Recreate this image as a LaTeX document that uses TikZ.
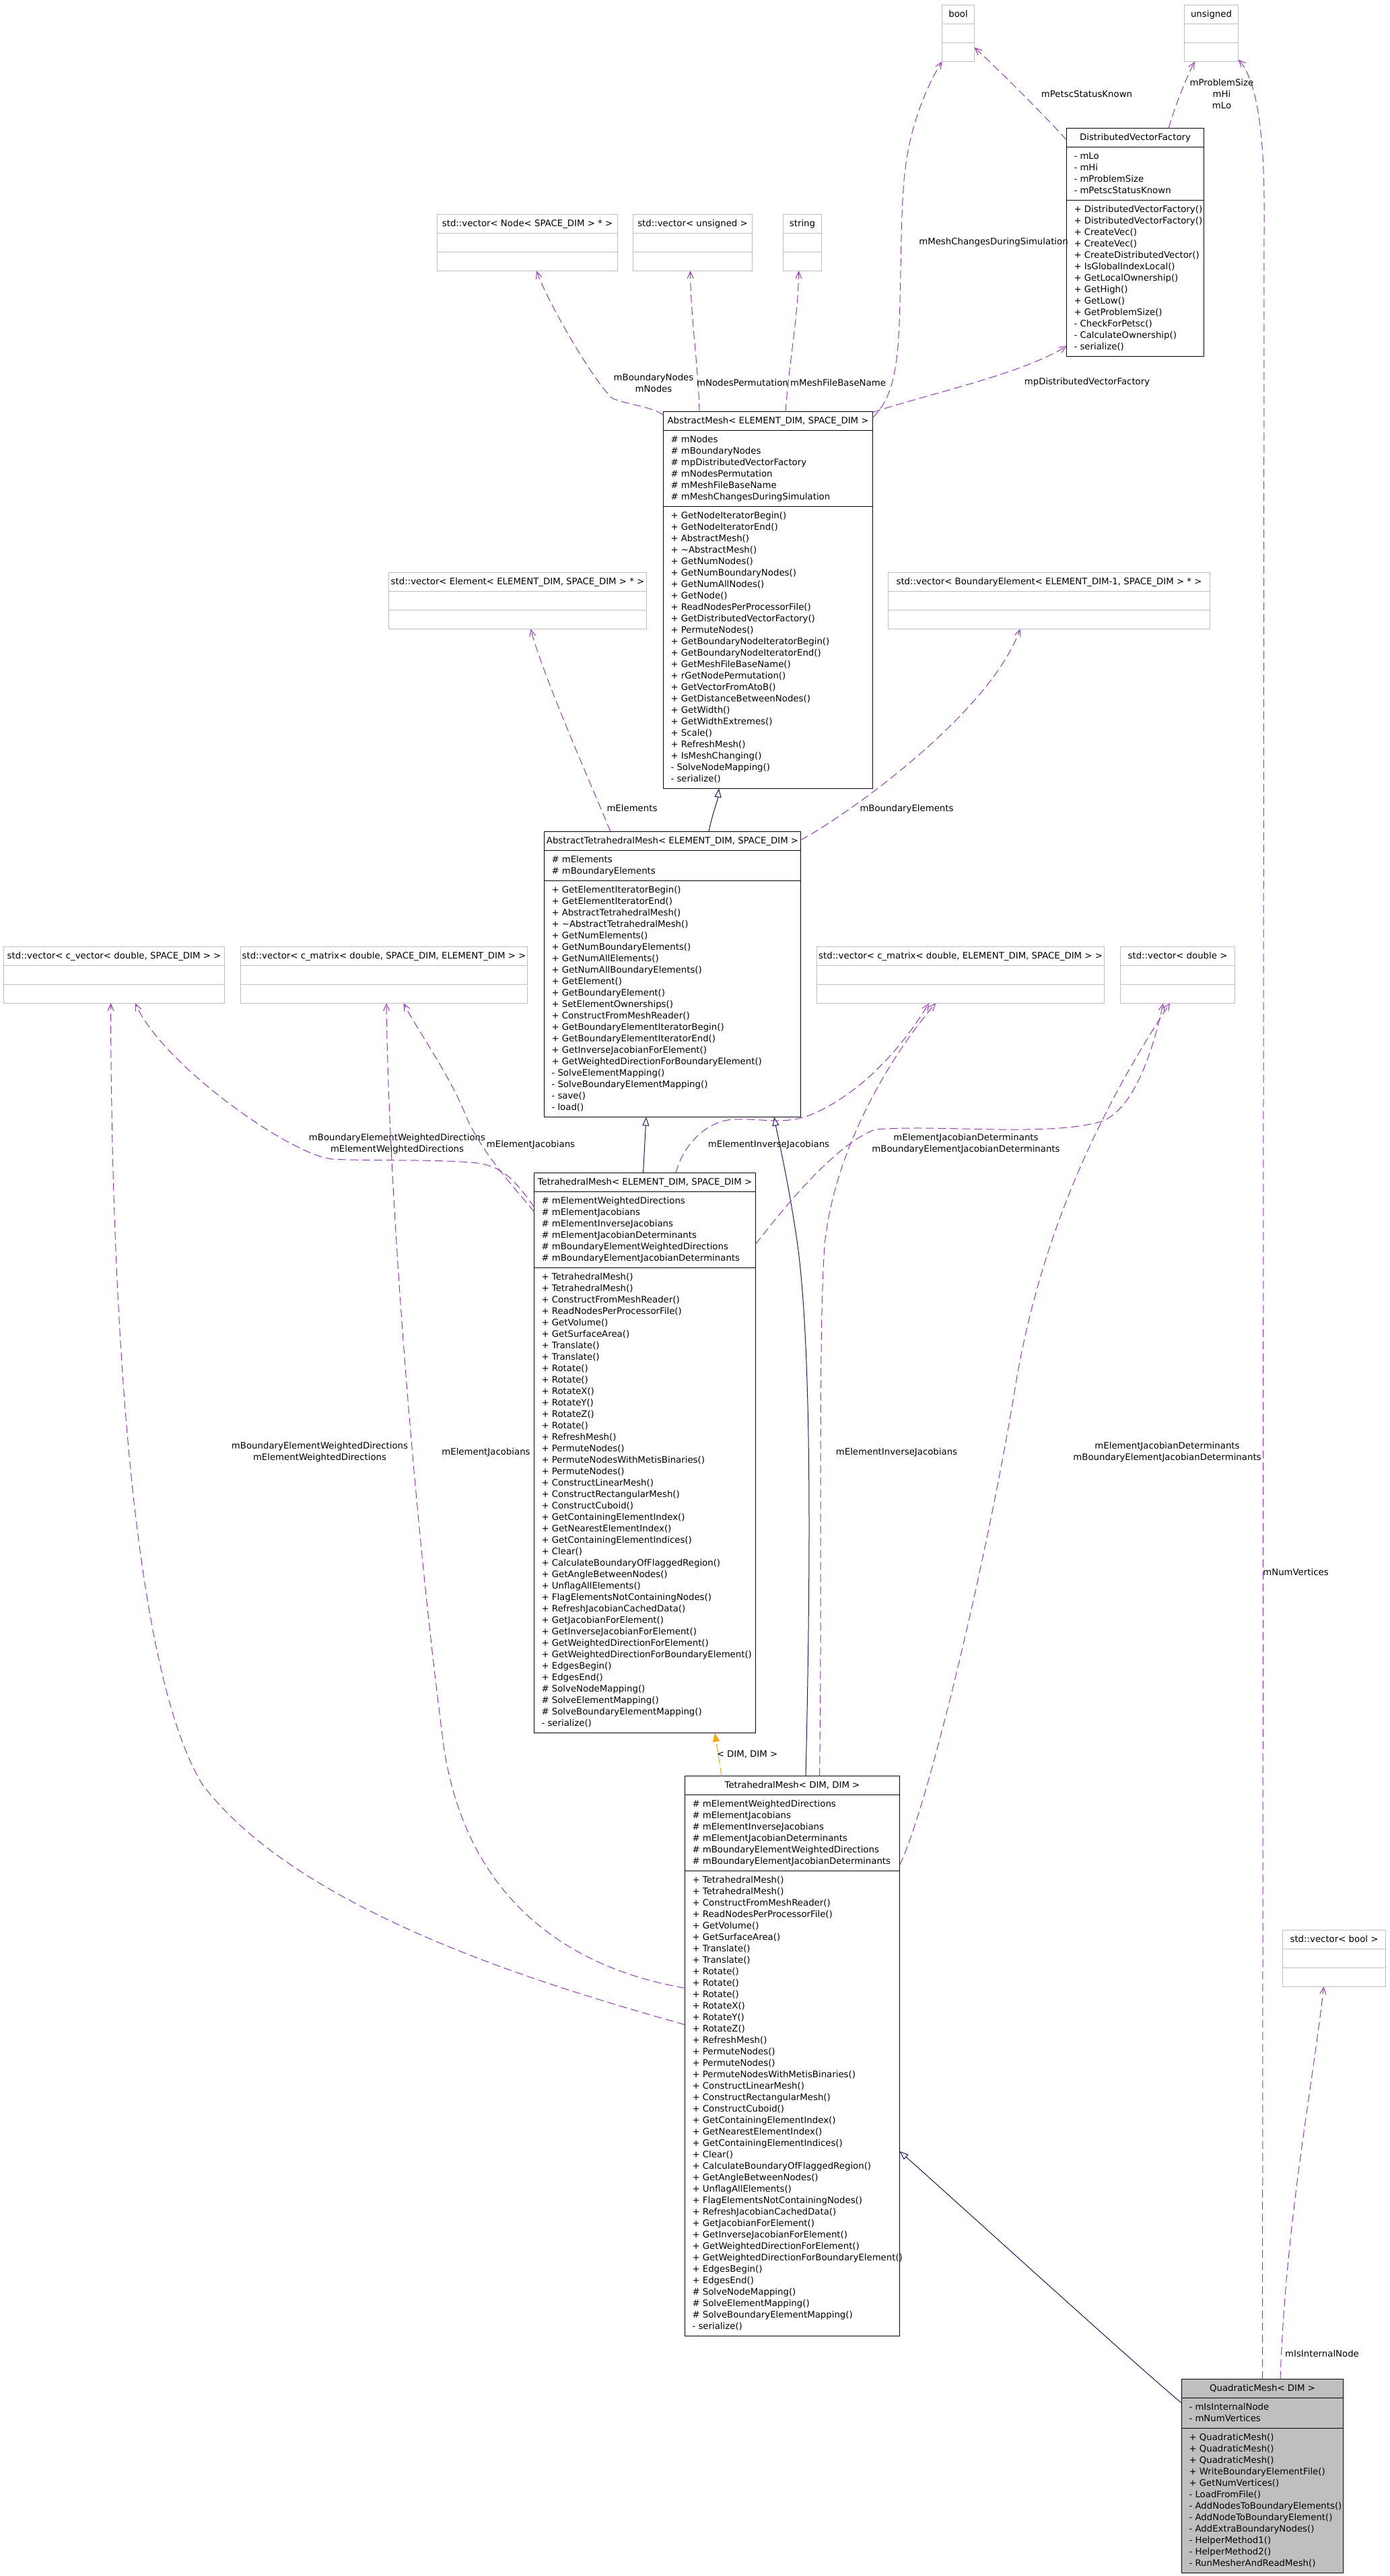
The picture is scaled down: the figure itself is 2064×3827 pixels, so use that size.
\documentclass[tikz,border=0pt]{standalone}
\usepackage{fontspec}
\setmainfont{DejaVu Sans}
\usetikzlibrary{arrows.meta}
\definecolor{usecol}{HTML}{9A32CD}
\definecolor{inhcol}{HTML}{191970}
\definecolor{tplcol}{HTML}{FFA500}
\definecolor{graybd}{HTML}{BFBFBF}
\definecolor{qfill}{HTML}{BFBFBF}
\tikzset{
 txt/.style={font=\fontsize{13.3}{17}\selectfont, inner sep=0pt, outer sep=0pt},
 clsbox/.style={draw=black, line width=1pt, fill=white, inner sep=0pt, outer sep=0pt},
 clsline/.style={draw=black, line width=1pt},
 stdframe/.style={draw=graybd, line width=1pt, fill=white, inner sep=0pt, outer sep=0pt},
 stdline/.style={draw=graybd, line width=1pt},
 useedge/.style={draw=usecol, line width=1pt, dash pattern=on 12pt off 6pt, -{Straight Barb[length=10pt,width=9pt]}},
 inhedge/.style={draw=inhcol, line width=1pt, -{Triangle[open,length=13pt,width=10pt,fill=white]}},
 tpledge/.style={draw=tplcol, line width=1pt, dash pattern=on 12pt off 6pt, -{Triangle[length=13pt,width=10pt]}},
}
% #1 style, #2 id, #3 x1, #4 x2, #5 ytop, #6 header, #7 attrs, #8 methods
\newcommand\umlclass[8]{%
  \foreach \itm [count=\i] in {#7} {\xdef\uNa{\i}}%
  \foreach \itm [count=\i] in {#8} {\xdef\uNm{\i}}%
  \pgfmathsetmacro\uHa{17*\uNa+11}%
  \pgfmathsetmacro\uHm{17*\uNm+11}%
  \pgfmathsetmacro\uHt{28+\uHa+\uHm}%
  \pgfmathsetmacro\uW{#4-#3}%
  \pgfmathsetmacro\uSa{28+\uHa}%
  \node[clsbox,#1,minimum width=\uW pt,minimum height=\uHt pt,anchor=north west] (#2) at (#3,#5) {};
  \draw[clsline] ([yshift=-28pt]#2.north west) -- ([yshift=-28pt]#2.north east);
  \draw[clsline] ([yshift=-\uSa pt]#2.north west) -- ([yshift=-\uSa pt]#2.north east);
  \node[txt,anchor=base] (#2-h) at ([yshift=-18pt]#2.north) {#6};
  \foreach \itm [count=\i] in {#7} {\pgfmathsetmacro\yy{46+17*(\i-1)}\node[txt,anchor=base west] (#2-a\i) at ([xshift=11pt,yshift=-\yy pt]#2.north west) {\itm};}%
  \foreach \itm [count=\i] in {#8} {\pgfmathsetmacro\yy{\uSa+18+17*(\i-1)}\node[txt,anchor=base west] (#2-m\i) at ([xshift=11pt,yshift=-\yy pt]#2.north west) {\itm};}%
}
% #1 id, #2 x1, #3 x2, #4 ytop, #5 header
\newcommand\stdclass[5]{%
  \pgfmathsetmacro\uW{#3-#2}%
  \node[stdframe,minimum width=\uW pt,minimum height=84pt,anchor=north west] (#1) at (#2,#4) {};
  \draw[stdline] ([yshift=-28pt]#1.north west) -- ([yshift=-28pt]#1.north east);
  \draw[stdline] ([yshift=-56pt]#1.north west) -- ([yshift=-56pt]#1.north east);
  \node[txt,anchor=base] (#1-h) at ([yshift=-18pt]#1.north) {#5};
}
\begin{document}
\begin{tikzpicture}[x=1pt,y=-1pt]
\fill[white] (0,0) rectangle (2064,3827);
\useasboundingbox (0,0) rectangle (2064,3827);

% ---------- classes ----------
\stdclass{bool}{1399.5}{1447.5}{7.5}{bool}
\stdclass{uns}{1759.5}{1839.5}{7.5}{unsigned}
\umlclass{}{dvf}{1584.5}{1788.5}{190.5}{DistributedVectorFactory}{- mLo, - mHi, - mProblemSize, - mPetscStatusKnown}{+ DistributedVectorFactory(), + DistributedVectorFactory(), + CreateVec(), + CreateVec(), + CreateDistributedVector(), + IsGlobalIndexLocal(), + GetLocalOwnership(), + GetHigh(), + GetLow(), + GetProblemSize(), - CheckForPetsc(), - CalculateOwnership(), - serialize()}
\stdclass{vn}{649.5}{917.5}{318.5}{std::vector< Node< SPACE\_DIM > * >}
\stdclass{vu}{940.5}{1117.5}{318.5}{std::vector< unsigned >}
\stdclass{str}{1163.5}{1220.5}{318.5}{string}
\umlclass{}{am}{985.5}{1296.5}{611.5}{AbstractMesh< ELEMENT\_DIM, SPACE\_DIM >}{\# mNodes, \# mBoundaryNodes, \# mpDistributedVectorFactory, \# mNodesPermutation, \# mMeshFileBaseName, \# mMeshChangesDuringSimulation}{+ GetNodeIteratorBegin(), + GetNodeIteratorEnd(), + AbstractMesh(), + \textasciitilde AbstractMesh(), + GetNumNodes(), + GetNumBoundaryNodes(), + GetNumAllNodes(), + GetNode(), + ReadNodesPerProcessorFile(), + GetDistributedVectorFactory(), + PermuteNodes(), + GetBoundaryNodeIteratorBegin(), + GetBoundaryNodeIteratorEnd(), + GetMeshFileBaseName(), + rGetNodePermutation(), + GetVectorFromAtoB(), + GetDistanceBetweenNodes(), + GetWidth(), + GetWidthExtremes(), + Scale(), + RefreshMesh(), + IsMeshChanging(), - SolveNodeMapping(), - serialize()}
\stdclass{ve}{577.5}{960.5}{850.5}{std::vector< Element< ELEMENT\_DIM, SPACE\_DIM > * >}
\stdclass{bev}{1319.5}{1797.5}{850.5}{std::vector< BoundaryElement< ELEMENT\_DIM-1, SPACE\_DIM > * >}
\umlclass{}{atm}{808.5}{1189.5}{1235.5}{AbstractTetrahedralMesh< ELEMENT\_DIM, SPACE\_DIM >}{\# mElements, \# mBoundaryElements}{+ GetElementIteratorBegin(), + GetElementIteratorEnd(), + AbstractTetrahedralMesh(), + \textasciitilde AbstractTetrahedralMesh(), + GetNumElements(), + GetNumBoundaryElements(), + GetNumAllElements(), + GetNumAllBoundaryElements(), + GetElement(), + GetBoundaryElement(), + SetElementOwnerships(), + ConstructFromMeshReader(), + GetBoundaryElementIteratorBegin(), + GetBoundaryElementIteratorEnd(), + GetInverseJacobianForElement(), + GetWeightedDirectionForBoundaryElement(), - SolveElementMapping(), - SolveBoundaryElementMapping(), - save(), - load()}
\stdclass{cv}{5.5}{333.5}{1406.5}{std::vector< c\_vector< double, SPACE\_DIM > >}
\stdclass{cm1}{357.5}{783.5}{1406.5}{std::vector< c\_matrix< double, SPACE\_DIM, ELEMENT\_DIM > >}
\stdclass{cm2}{1213.5}{1640.5}{1406.5}{std::vector< c\_matrix< double, ELEMENT\_DIM, SPACE\_DIM > >}
\stdclass{dbl}{1664.5}{1834.5}{1406.5}{std::vector< double >}
\umlclass{}{te}{793.5}{1122.5}{1742.5}{TetrahedralMesh< ELEMENT\_DIM, SPACE\_DIM >}{\# mElementWeightedDirections, \# mElementJacobians, \# mElementInverseJacobians, \# mElementJacobianDeterminants, \# mBoundaryElementWeightedDirections, \# mBoundaryElementJacobianDeterminants}{+ TetrahedralMesh(), + TetrahedralMesh(), + ConstructFromMeshReader(), + ReadNodesPerProcessorFile(), + GetVolume(), + GetSurfaceArea(), + Translate(), + Translate(), + Rotate(), + Rotate(), + RotateX(), + RotateY(), + RotateZ(), + Rotate(), + RefreshMesh(), + PermuteNodes(), + PermuteNodesWithMetisBinaries(), + PermuteNodes(), + ConstructLinearMesh(), + ConstructRectangularMesh(), + ConstructCuboid(), + GetContainingElementIndex(), + GetNearestElementIndex(), + GetContainingElementIndices(), + Clear(), + CalculateBoundaryOfFlaggedRegion(), + GetAngleBetweenNodes(), + UnflagAllElements(), + FlagElementsNotContainingNodes(), + RefreshJacobianCachedData(), + GetJacobianForElement(), + GetInverseJacobianForElement(), + GetWeightedDirectionForElement(), + GetWeightedDirectionForBoundaryElement(), + EdgesBegin(), + EdgesEnd(), \# SolveNodeMapping(), \# SolveElementMapping(), \# SolveBoundaryElementMapping(), - serialize()}
\umlclass{}{dd}{1017.5}{1336.5}{2638.5}{TetrahedralMesh< DIM, DIM >}{\# mElementWeightedDirections, \# mElementJacobians, \# mElementInverseJacobians, \# mElementJacobianDeterminants, \# mBoundaryElementWeightedDirections, \# mBoundaryElementJacobianDeterminants}{+ TetrahedralMesh(), + TetrahedralMesh(), + ConstructFromMeshReader(), + ReadNodesPerProcessorFile(), + GetVolume(), + GetSurfaceArea(), + Translate(), + Translate(), + Rotate(), + Rotate(), + Rotate(), + RotateX(), + RotateY(), + RotateZ(), + RefreshMesh(), + PermuteNodes(), + PermuteNodes(), + PermuteNodesWithMetisBinaries(), + ConstructLinearMesh(), + ConstructRectangularMesh(), + ConstructCuboid(), + GetContainingElementIndex(), + GetNearestElementIndex(), + GetContainingElementIndices(), + Clear(), + CalculateBoundaryOfFlaggedRegion(), + GetAngleBetweenNodes(), + UnflagAllElements(), + FlagElementsNotContainingNodes(), + RefreshJacobianCachedData(), + GetJacobianForElement(), + GetInverseJacobianForElement(), + GetWeightedDirectionForElement(), + GetWeightedDirectionForBoundaryElement(), + EdgesBegin(), + EdgesEnd(), \# SolveNodeMapping(), \# SolveElementMapping(), \# SolveBoundaryElementMapping(), - serialize()}
\stdclass{svb}{1905.5}{2058.5}{2867.5}{std::vector< bool >}
\umlclass{fill=qfill}{qm}{1755.5}{1995.5}{3534.5}{QuadraticMesh< DIM >}{- mIsInternalNode, - mNumVertices}{+ QuadraticMesh(), + QuadraticMesh(), + QuadraticMesh(), + WriteBoundaryElementFile(), + GetNumVertices(), - LoadFromFile(), - AddNodesToBoundaryElements(), - AddNodeToBoundaryElement(), - AddExtraBoundaryNodes(), - HelperMethod1(), - HelperMethod2(), - RunMesherAndReadMesh()}

% ---------- connectors ----------
\draw[useedge] ([yshift=-5pt]am.north west) .. controls (965,603) and (935,602) .. (910,592) .. controls (880,565) and (812,445) .. ([xshift=147.5pt]vn.south west);
\draw[useedge] ([xshift=53.5pt]am.north west) .. controls (1037,540) and (1026,470) .. ([xshift=85pt]vu.south west);
\draw[useedge] ([xshift=181.5pt]am.north west) .. controls (1172,540) and (1186,470) .. ([xshift=23pt]str.south west);
\draw[useedge] ([yshift=-9pt]am.north east) .. controls (1322,595) and (1333,560) .. (1336,480) .. controls (1339,400) and (1338,300) .. (1345,250) .. controls (1352,190) and (1375,130) .. (bool.south west);
\draw[useedge] ([yshift=-1pt]am.north east) .. controls (1380,585) and (1520,555) .. ([yshift=-323.5pt]dvf.north west);
\draw[useedge] ([yshift=-17.5pt]dvf.north west) .. controls (1550,170) and (1480,100) .. ([yshift=21pt]bool.south east);
\draw[useedge] ([xshift=151.5pt]dvf.north west) .. controls (1748,150) and (1765,110) .. ([xshift=15.5pt]uns.south west);
\draw[useedge] ([xshift=120pt]qm.north west) -- (1878,320) .. controls (1879,190) and (1865,115) .. ([yshift=3pt]uns.south east);
\draw[useedge] ([xshift=146.5pt]qm.north west) .. controls (1910,3300) and (1950,3100) .. ([xshift=61pt]svb.south west);
\draw[inhedge] ([yshift=-35.5pt]qm.north west) .. controls (1700,3525) and (1420,3270) .. ([yshift=-557.5pt]dd.north east);
\draw[inhedge] ([xshift=162pt]te.north west) -- ([xshift=151.5pt]atm.south west);
\draw[inhedge] ([xshift=179.5pt]dd.north west) .. controls (1205,2300) and (1205,2000) .. (1185,1850) .. controls (1172,1760) and (1158,1700) .. ([xshift=341.5pt]atm.south west);
\draw[tpledge] ([xshift=54.5pt]dd.north west) -- ([xshift=268.5pt]te.south west);
\draw[inhedge] ([xshift=244.5pt]atm.north west) .. controls (1058,1210) and (1066,1190) .. ([xshift=82.5pt]am.south west);
\draw[useedge] ([xshift=98.5pt]atm.north west) .. controls (880,1170) and (805,1000) .. ([xshift=211pt]ve.south west);
\draw[useedge] ([yshift=-12.5pt]atm.north east) .. controls (1260,1210) and (1470,1060) .. ([xshift=196pt]bev.south west);
\draw[useedge] ([yshift=-51pt]te.north west) .. controls (760,1745) and (740,1730) .. (700,1727) .. controls (640,1722) and (540,1725) .. (494,1722) .. controls (430,1716) and (240,1580) .. ([xshift=195.5pt]cv.south west);
\draw[useedge] ([yshift=-58pt]te.north west) .. controls (770,1770) and (720,1720) .. (693,1660) .. controls (670,1600) and (620,1530) .. ([xshift=242pt]cm1.south west);
\draw[useedge] ([yshift=-369.5pt]dd.north west) .. controls (850,2960) and (450,2850) .. (300,2650) .. controls (180,2450) and (165,1800) .. ([xshift=159pt]cv.south west);
\draw[useedge] ([yshift=-315pt]dd.north west) .. controls (880,2930) and (700,2850) .. (660,2600) .. controls (620,2300) and (578,1800) .. ([xshift=216.5pt]cm1.south west);
\draw[useedge] ([xshift=210.5pt]te.north west) .. controls (1015,1700) and (1050,1665) .. (1090,1663) .. controls (1130,1661) and (1165,1672) .. (1205,1656) .. controls (1290,1620) and (1350,1540) .. ([xshift=166.5pt]cm2.south west);
\draw[useedge] ([xshift=200pt]dd.north west) .. controls (1222,2300) and (1215,2000) .. (1225,1850) .. controls (1240,1700) and (1330,1560) .. ([xshift=176.5pt]cm2.south west);
\draw[useedge] ([yshift=-106pt]te.north east) .. controls (1160,1800) and (1240,1700) .. (1300,1678) .. controls (1400,1670) and (1560,1690) .. (1640,1665) .. controls (1690,1640) and (1715,1550) .. ([xshift=63.5pt]dbl.south west);
\draw[useedge] ([yshift=-132.5pt]dd.north east) .. controls (1380,2680) and (1470,2300) .. (1510,2050) .. controls (1550,1820) and (1640,1640) .. ([xshift=73.5pt]dbl.south west);

% ---------- labels ----------
\node[txt,anchor=base] (l1) at (1476,363) {mMeshChangesDuringSimulation};
\node[txt,anchor=base] (l2) at (1614.5,144.4) {mPetscStatusKnown};
\node[txt,align=center] (l3) at (1815,139.6) {mProblemSize\\mHi\\mLo};
\node[txt,align=center] (l4) at (971,569.2) {mBoundaryNodes\\mNodes};
\node[txt,anchor=base] (l5) at (1103,573) {mNodesPermutation};
\node[txt,anchor=base] (l6) at (1245,573) {mMeshFileBaseName};
\node[txt,anchor=base] (l7) at (1615,571) {mpDistributedVectorFactory};
\node[txt,anchor=base] (l8) at (939,1205) {mElements};
\node[txt,anchor=base] (l9) at (1347,1205) {mBoundaryElements};
\node[txt,align=center] (l10) at (590,1699.2) {mBoundaryElementWeightedDirections\\mElementWeightedDirections};
\node[txt,anchor=base] (l11) at (788.5,1704.8) {mElementJacobians};
\node[txt,anchor=base] (l12) at (1142,1704.8) {mElementInverseJacobians};
\node[txt,align=center] (l13) at (1435,1699.2) {mElementJacobianDeterminants\\mBoundaryElementJacobianDeterminants};
\node[txt,align=center] (l14) at (475,2157.4) {mBoundaryElementWeightedDirections\\mElementWeightedDirections};
\node[txt,anchor=base] (l15) at (722,2161.5) {mElementJacobians};
\node[txt,anchor=base] (l16) at (1332,2161.5) {mElementInverseJacobians};
\node[txt,align=center] (l17) at (1734,2157.4) {mElementJacobianDeterminants\\mBoundaryElementJacobianDeterminants};
\node[txt,anchor=base] (l18) at (1925,2340) {mNumVertices};
\node[txt,anchor=base] (l19) at (1110,2610) {< DIM, DIM >};
\node[txt,anchor=base] (l20) at (1964,3501) {mIsInternalNode};
\end{tikzpicture}
\end{document}
